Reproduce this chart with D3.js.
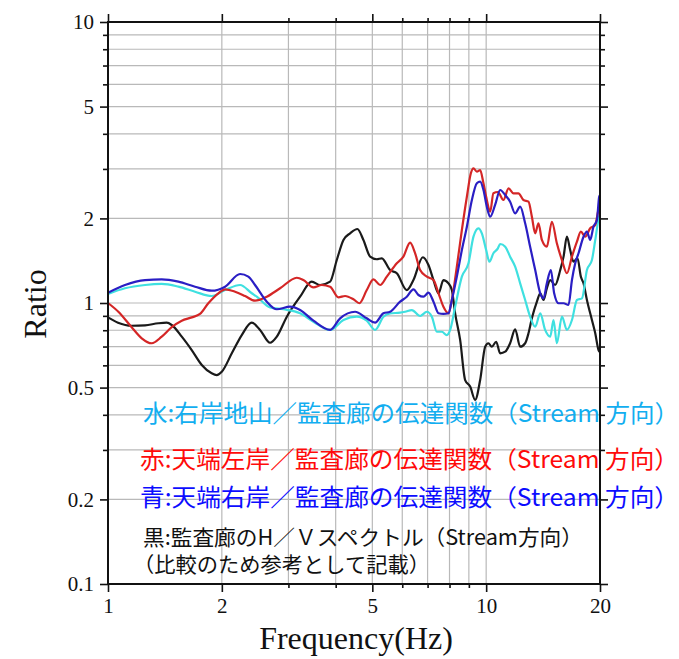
<!DOCTYPE html>
<html>
<head>
<meta charset="utf-8">
<script src="https://cdn.jsdelivr.net/npm/d3@7"></script>
<style>
  html, body { margin: 0; padding: 0; background: #fff; }
  svg { display: block; }
</style>
</head>
<body>
<svg id="chart" width="679" height="659"></svg>
<script>
// ---------------- DATA ----------------
const xMajorTicks = [1, 2, 5, 10, 20];
const xMinorTicks = [3, 4, 6, 7, 8, 9];
const xGridValues = [2, 3, 4, 5, 6, 7, 8, 9, 10];
const yMajorTicks = [0.1, 0.2, 0.5, 1, 2, 5, 10];
const yMinorTicks = [0.3, 0.4, 0.6, 0.7, 0.8, 0.9, 3, 4, 6, 7, 8, 9];
const yGridValues = [0.2, 0.3, 0.4, 0.5, 0.6, 0.7, 0.8, 0.9, 1, 2, 3, 4, 5, 6, 7, 8, 9];
const yTickLabels = {0.1: "0.1", 0.2: "0.2", 0.5: "0.5", 1: "1", 2: "2", 5: "5", 10: "10"};
const xTickLabels = {1: "1", 2: "2", 5: "5", 10: "10", 20: "20"};

// [frequency (Hz), ratio]
const blackSeries = [[1.00,0.889],[1.063,0.851],[1.155,0.830],[1.253,0.833],[1.359,0.847],[1.430,0.851],[1.474,0.835],[1.567,0.759],[1.665,0.680],[1.770,0.602],[1.880,0.562],[1.939,0.554],[1.999,0.569],[2.125,0.662],[2.258,0.769],[2.400,0.851],[2.524,0.802],[2.683,0.722],[2.795,0.759],[2.971,0.894],[3.221,1.053],[3.458,1.191],[3.638,1.159],[3.867,1.191],[4.027,1.422],[4.194,1.676],[4.368,1.770],[4.566,1.834],[4.736,1.676],[4.934,1.462],[5.138,1.431],[5.298,1.442],[5.572,1.310],[5.804,1.276],[6.168,1.112],[6.422,1.207],[6.801,1.455],[7.038,1.365],[7.256,1.207],[7.481,1.083],[7.709,1.207],[7.948,1.175],[8.115,1.112],[8.279,0.919],[8.535,0.739],[8.799,0.532],[9.072,0.504],[9.352,0.452],[9.641,0.532],[9.94,0.699],[10.14,0.719],[10.35,0.699],[10.63,0.728],[10.89,0.662],[11.23,0.671],[11.57,0.719],[11.93,0.806],[12.30,0.699],[12.68,0.719],[12.94,0.780],[13.21,0.882],[13.62,1.011],[13.90,1.083],[14.18,1.025],[14.47,1.128],[14.77,1.207],[15.22,1.159],[15.70,1.310],[16.02,1.462],[16.35,1.722],[16.68,1.543],[17.02,1.403],[17.44,1.442],[17.80,1.241],[18.09,1.175],[18.47,1.025],[19.04,0.870],[19.43,0.780],[19.82,0.680],[20,0.669]];

const cyanSeries = [[1.00,1.077],[1.109,1.128],[1.253,1.159],[1.387,1.169],[1.535,1.143],[1.699,1.097],[1.880,1.059],[2.040,1.112],[2.235,1.159],[2.400,1.083],[2.474,1.053],[2.683,0.965],[2.910,0.950],[3.221,0.919],[3.493,0.858],[3.867,0.802],[4.194,0.870],[4.549,0.894],[4.834,0.865],[5.085,0.802],[5.350,0.894],[5.572,0.919],[5.922,0.924],[6.105,0.931],[6.360,0.944],[6.690,0.899],[6.968,0.931],[7.184,0.894],[7.406,0.790],[7.635,0.790],[7.870,0.769],[8.031,0.802],[8.279,0.970],[8.625,1.241],[8.978,1.384],[9.256,1.722],[9.541,1.844],[9.741,1.770],[10.0,1.543],[10.20,1.403],[10.45,1.503],[10.74,1.565],[10.89,1.622],[11.23,1.586],[11.57,1.462],[11.93,1.347],[12.30,1.175],[12.68,1.025],[13.07,0.894],[13.48,0.823],[13.90,0.919],[14.32,0.802],[14.77,0.759],[15.07,0.870],[15.38,0.719],[15.86,0.894],[16.35,0.802],[16.86,0.870],[17.38,1.025],[17.92,1.039],[18.47,1.310],[19.04,1.422],[19.43,1.676],[19.90,2.028],[20,2.05]];

const redSeries = [[1.00,1.00],[1.065,0.931],[1.155,0.820],[1.228,0.749],[1.305,0.719],[1.387,0.759],[1.474,0.820],[1.567,0.865],[1.665,0.889],[1.751,0.914],[1.842,0.998],[1.958,1.083],[2.040,1.119],[2.168,1.097],[2.304,1.059],[2.448,1.019],[2.630,1.053],[2.851,1.128],[3.157,1.230],[3.286,1.207],[3.493,1.137],[3.675,1.159],[3.867,1.143],[4.067,1.048],[4.236,1.059],[4.456,1.031],[4.621,0.998],[4.834,1.112],[5.033,1.214],[5.243,1.159],[5.461,1.241],[5.804,1.384],[6.041,1.462],[6.293,1.639],[6.489,1.503],[6.690,1.310],[6.968,1.241],[7.256,1.207],[7.481,1.083],[7.709,0.970],[7.948,0.919],[8.115,1.025],[8.365,1.347],[8.625,1.819],[8.892,2.389],[9.110,2.894],[9.256,3.015],[9.450,2.933],[9.641,2.974],[9.837,2.667],[10.04,2.326],[10.25,2.113],[10.45,2.457],[10.74,2.483],[11.11,2.326],[11.46,2.559],[11.81,2.457],[12.17,2.457],[12.55,2.326],[12.94,2.294],[13.21,2.028],[13.48,1.770],[13.75,1.921],[14.04,1.676],[14.47,1.586],[14.92,1.946],[15.38,1.631],[15.86,1.422],[16.35,1.276],[16.86,1.462],[17.38,1.652],[17.80,1.794],[18.28,1.722],[18.84,1.844],[19.43,1.895],[19.82,2.143],[20,2.18]];

const blueSeries = [[1.00,1.088],[1.109,1.159],[1.253,1.207],[1.387,1.214],[1.535,1.191],[1.699,1.143],[1.880,1.106],[2.040,1.143],[2.235,1.268],[2.350,1.241],[2.448,1.159],[2.630,1.011],[2.795,0.950],[3.030,0.970],[3.221,0.944],[3.493,0.865],[3.867,0.802],[4.110,0.882],[4.502,0.931],[4.834,0.882],[5.085,0.851],[5.350,0.919],[5.572,0.931],[5.922,1.011],[6.168,1.053],[6.422,1.119],[6.621,1.068],[6.825,1.053],[7.038,1.088],[7.256,1.011],[7.481,0.919],[7.709,0.914],[7.948,0.919],[8.115,1.025],[8.365,1.241],[8.625,1.543],[8.892,1.869],[9.167,2.326],[9.450,2.667],[9.641,2.702],[9.837,2.524],[10.04,2.202],[10.25,2.028],[10.56,2.233],[10.89,2.524],[11.23,2.423],[11.57,2.294],[11.93,2.085],[12.30,2.202],[12.68,1.921],[13.07,1.586],[13.48,1.310],[13.90,1.083],[14.18,1.039],[14.47,1.175],[14.83,1.310],[15.13,1.083],[15.54,0.998],[16.02,0.998],[16.51,0.984],[16.86,1.207],[17.20,1.384],[17.55,1.503],[18.09,1.722],[18.47,1.794],[18.84,1.676],[19.22,1.869],[19.63,1.974],[19.90,2.389],[20,2.42]];

const legendLines = [
  "水:右岸地山／監査廊の伝達関数（Stream 方向）",
  "赤:天端左岸／監査廊の伝達関数（Stream 方向）",
  "青:天端右岸／監査廊の伝達関数（Stream 方向）",
  "黒:監査廊のH／Ｖスペクトル（Stream方向）",
  "（比較のため参考として記載）"
];
const xTitle = "Frequency(Hz)";
const yTitle = "Ratio";

// ---------------- LAYOUT ----------------
const L = 108, R = 600, T = 22, B = 584;
const svg = d3.select("#chart");
const x = d3.scaleLog().domain([1, 20]).range([L, R]);
const y = d3.scaleLog().domain([0.1, 10]).range([B, T]);

const serif = "'Liberation Serif', 'Times New Roman', serif";
const jp = "'Noto Sans CJK JP', 'Noto Sans', sans-serif";

// grid
const grid = svg.append("g").attr("stroke", "#b9b9b9").attr("stroke-width", 1.2);
grid.selectAll("line.v").data(xGridValues).join("line")
  .attr("x1", d => x(d)).attr("x2", d => x(d)).attr("y1", T).attr("y2", B);
grid.selectAll("line.h").data(yGridValues).join("line")
  .attr("x1", L).attr("x2", R).attr("y1", d => y(d)).attr("y2", d => y(d));

// legend text (drawn under curves)
const legendStyle = [
  {color: "#12aef0", size: 24, x: 143, yb: 422, w: 536},
  {color: "#ff0a0a", size: 24, x: 140, yb: 468, w: 539},
  {color: "#0c0cff", size: 24, x: 140, yb: 506, w: 539},
  {color: "#111111", size: 21, x: 143, yb: 545, w: 440},
  {color: "#111111", size: 21, x: 133, yb: 572, w: 297}
];
svg.append("g").selectAll("text").data(legendLines).join("text")
  .attr("x", (d, i) => legendStyle[i].x)
  .attr("y", (d, i) => legendStyle[i].yb)
  .attr("fill", (d, i) => legendStyle[i].color)
  .attr("font-family", jp)
  .attr("font-size", (d, i) => legendStyle[i].size)
  .attr("textLength", (d, i) => legendStyle[i].w)
  .attr("lengthAdjust", "spacingAndGlyphs")
  .text(d => d);

// curves
const line = d3.line().x(d => x(d[0])).y(d => y(d[1])).curve(d3.curveMonotoneX);
const curves = [
  {data: blackSeries, color: "#1a1a1a"},
  {data: cyanSeries, color: "#3fe0e0"},
  {data: redSeries, color: "#d42626"},
  {data: blueSeries, color: "#2a1ec4"}
];
svg.append("g").attr("clip-path", null).selectAll("path").data(curves).join("path")
  .attr("d", d => line(d.data))
  .attr("fill", "none")
  .attr("stroke", d => d.color)
  .attr("stroke-width", 2.2)
  .attr("stroke-linejoin", "round");

// axes
function styleAxis(g) {
  g.select(".domain").remove();
  g.selectAll(".tick line").attr("stroke", "#111").attr("stroke-width", 1.6);
  g.selectAll(".tick text").attr("font-family", serif).attr("font-size", 21).attr("fill", "#111");
}
svg.append("g").attr("transform", `translate(${L},0)`)
  .call(d3.axisLeft(y).tickValues(yMajorTicks).tickSize(8).tickPadding(6).tickFormat(d => yTickLabels[d]))
  .call(styleAxis);
svg.append("g").attr("transform", `translate(${L},0)`)
  .call(d3.axisLeft(y).tickValues(yMinorTicks).tickSize(5).tickFormat(""))
  .call(styleAxis);
svg.append("g").attr("transform", `translate(${R},0)`)
  .call(d3.axisRight(y).tickValues(yMajorTicks).tickSize(8).tickFormat(""))
  .call(styleAxis);
svg.append("g").attr("transform", `translate(${R},0)`)
  .call(d3.axisRight(y).tickValues(yMinorTicks).tickSize(5).tickFormat(""))
  .call(styleAxis);
svg.append("g").attr("transform", `translate(0,${B})`)
  .call(d3.axisBottom(x).tickValues(xMajorTicks).tickSize(8).tickPadding(6).tickFormat(d => xTickLabels[d]))
  .call(styleAxis);
svg.append("g").attr("transform", `translate(0,${B})`)
  .call(d3.axisBottom(x).tickValues(xMinorTicks).tickSize(4).tickFormat(""))
  .call(styleAxis);
svg.append("g").attr("transform", `translate(0,${T})`)
  .call(d3.axisTop(x).tickValues(xMajorTicks).tickSize(8).tickFormat(""))
  .call(styleAxis);
svg.append("g").attr("transform", `translate(0,${T})`)
  .call(d3.axisTop(x).tickValues(xMinorTicks).tickSize(4).tickFormat(""))
  .call(styleAxis);

// frame
svg.append("rect").attr("x", L).attr("y", T).attr("width", R - L).attr("height", B - T)
  .attr("fill", "none").attr("stroke", "#111").attr("stroke-width", 2);

// titles
svg.append("text").attr("x", 356).attr("y", 649).attr("text-anchor", "middle")
  .attr("font-family", serif).attr("font-size", 32).attr("fill", "#111").text(xTitle);
svg.append("text").attr("transform", "translate(46,304) rotate(-90)").attr("text-anchor", "middle")
  .attr("font-family", serif).attr("font-size", 32).attr("fill", "#111").text(yTitle);
</script>
</body>
</html>
